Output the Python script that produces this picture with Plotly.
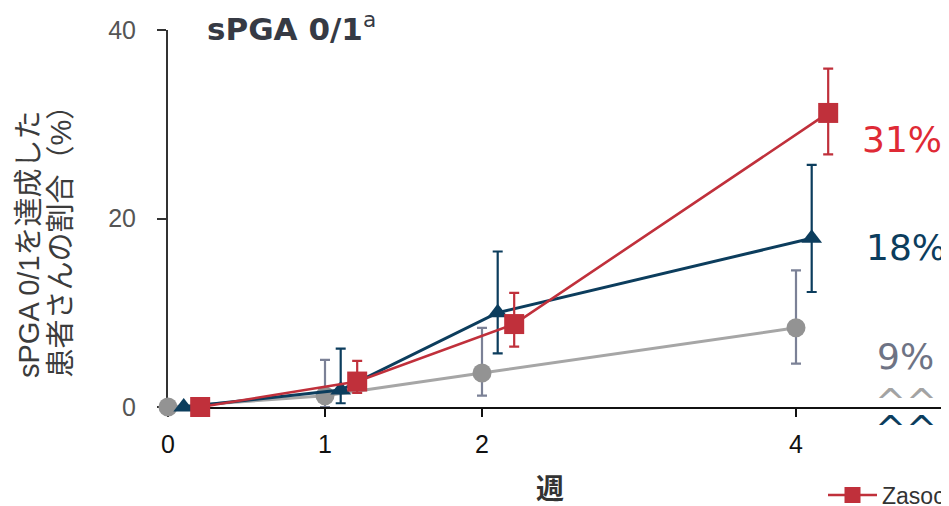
import plotly.graph_objects as go

# ---- data ----
weeks = [0, 1, 2, 4]
week_ticks = [0, 1, 2, 4]
y_ticks = [0, 20, 40]

placebo_vals = [0, 1.2, 3.6, 8.4]
placebo_upper = [0, 5.0, 8.4, 14.5]
placebo_lower = [0, 0, 1.2, 4.6]

blue_vals = [0, 1.8, 10.0, 17.9]
blue_upper = [0, 6.2, 16.5, 25.7]
blue_lower = [0, 0.4, 5.7, 12.2]

red_vals = [0, 2.7, 8.8, 31.2]
red_upper = [0, 4.9, 12.1, 35.9]
red_lower = [0, 1.5, 6.4, 26.8]

end_labels = ["9%", "18%", "31%"]
legend_name = "Zasoc"
title_text = "<b>sPGA 0/1</b><sup>a</sup>"
ytitle_lines = ["sPGA 0/1を達成した", "患者さんの割合（%）"]
xtitle = "<b>週</b>"

# ---- style ----
RED = "#c0303b"
BLUE = "#0c3d5d"
GRAY_M = "#939393"
GRAY_L = "#a6a6a6"
GRAY_E = "#7b8196"

W, H = 949, 506
OFF = 8  # page body margin
# plot area in screen pixels: x 168..949, y 30..407
SX0, SX1, SY0, SY1 = 168, 949, 30, 407
ML, MR, MT, MB = SX0 - OFF, W - (SX1 - OFF), SY0 - OFF, H - (SY1 - OFF)
PW, PH = SX1 - SX0, SY1 - SY0


def shift(xs, d):
    return [x + d for x in xs]


def err(vals, up, lo, color):
    return dict(type="data", symmetric=False,
                array=[u - v for u, v in zip(up, vals)],
                arrayminus=[v - l for v, l in zip(vals, lo)],
                color=color, thickness=2.2, width=5)


fig = go.Figure()
fig.add_trace(go.Scatter(
    x=shift(weeks, 0.0), y=placebo_vals, mode="lines+markers",
    line=dict(color=GRAY_L, width=3),
    marker=dict(symbol="circle", size=19, color=GRAY_M),
    error_y=err(placebo_vals, placebo_upper, placebo_lower, GRAY_E),
    cliponaxis=False, showlegend=False, name="Placebo"))
fig.add_trace(go.Scatter(
    x=shift(weeks, 0.1), y=blue_vals, mode="lines+markers",
    line=dict(color=BLUE, width=3),
    marker=dict(symbol="triangle-up", size=18, color=BLUE),
    error_y=err(blue_vals, blue_upper, blue_lower, BLUE),
    cliponaxis=False, showlegend=False, name="Zasocitinib low"))
fig.add_trace(go.Scatter(
    x=shift(weeks, 0.205), y=red_vals, mode="lines+markers",
    line=dict(color=RED, width=2.6),
    marker=dict(symbol="square", size=20, color=RED),
    error_y=err(red_vals, red_upper, red_lower, RED),
    cliponaxis=False, showlegend=True, name=legend_name))

x_range = [0, PW / 157.0]

fig.update_layout(
    width=W, height=H,
    margin=dict(l=ML, r=MR, t=MT, b=MB, autoexpand=False),
    paper_bgcolor="white", plot_bgcolor="white",
    showlegend=True,
    legend=dict(xref="container", yref="container", x=(823 - OFF) / W, y=(H - (495 - OFF)) / H,
                xanchor="left", yanchor="middle",
                font=dict(family="Liberation Sans", size=23, color="#333333"),
                bgcolor="rgba(0,0,0,0)", itemwidth=49),
    xaxis=dict(range=x_range, tickvals=week_ticks, ticktext=[str(t) for t in week_ticks],
               showgrid=False, zeroline=False, showline=True, linecolor="#111111", linewidth=2,
               ticks="outside", ticklen=8, tickwidth=2, tickcolor="#111111",
               tickfont=dict(family="Liberation Sans", size=25, color="#111111"),
               ticklabelstandoff=6, layer="below traces"),
    yaxis=dict(range=[0, 40], tickvals=y_ticks,
               showgrid=False, zeroline=False, showline=True, linecolor="#333333", linewidth=2,
               ticks="outside", ticklen=9, tickwidth=2, tickcolor="#333333",
               tickfont=dict(family="Liberation Sans", size=25, color="#555555"),
               ticklabelstandoff=16, layer="below traces"),
)


def px_x(p):
    return (p - SX0) / PW


def px_y(p):
    return (SY1 - p) / PH


ann = []
# title
ann.append(dict(text=title_text, xref="paper", yref="paper", x=px_x(205), y=px_y(27),
                xanchor="left", yanchor="middle", showarrow=False,
                font=dict(family="DejaVu Sans", size=31, color="#363a44")))
# y-axis title (two lines, rotated, start-aligned)
for line, cx in zip(ytitle_lines, [29, 60]):
    ann.append(dict(text=line, xref="paper", yref="paper", x=px_x(cx), y=px_y(380),
                    xanchor="center", yanchor="bottom", textangle=-90, showarrow=False,
                    font=dict(family="Liberation Sans, Noto Sans CJK JP", size=29, color="#3c3c3c")))
# x-axis title
ann.append(dict(text=xtitle, xref="paper", yref="paper", x=px_x(550), y=px_y(487),
                xanchor="center", yanchor="middle", showarrow=False,
                font=dict(family="Noto Sans CJK JP", size=28, color="#333333")))
# end labels
lab_pos = [(905, 356, "#6e7384"), (906, 247, BLUE), (902, 139, "#df2a35")]
for t, (cx, cy, col) in zip(end_labels, lab_pos):
    ann.append(dict(text=t, xref="paper", yref="paper", x=px_x(cx), y=px_y(cy),
                    xanchor="center", yanchor="middle", showarrow=False,
                    font=dict(family="DejaVu Sans", size=36, color=col)))
# significance carets
for cy, col in [(402, "#a3a3a3"), (429, BLUE)]:
    ann.append(dict(text="^^", xref="paper", yref="paper", x=px_x(906), y=px_y(cy),
                    xanchor="center", yanchor="middle", showarrow=False,
                    font=dict(family="DejaVu Sans", size=37, color=col)))

fig.update_layout(annotations=ann)
fig.write_html("out.html")
